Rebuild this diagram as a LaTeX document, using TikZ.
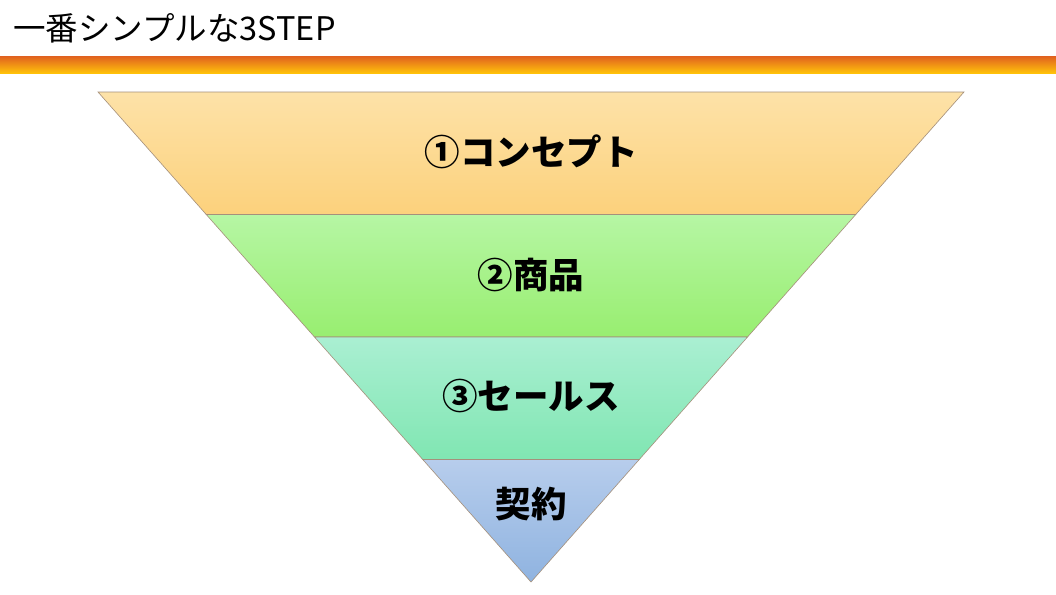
\documentclass[tikz,border=0pt]{standalone}
\usepackage{fontspec}
\setmainfont{Noto Sans CJK JP}
\newfontfamily\jpfont{Noto Sans CJK JP}
\usetikzlibrary{calc}
\usetikzlibrary{positioning}
\tikzset{
	band/.style={draw=black!45!brown!60, line width=0.6pt},
	bandlabel/.style={font=\jpfont\bfseries\fontsize{35.5}{35.5}\selectfont, text=black, inner sep=0pt}
}

\begin{document}
\begin{tikzpicture}[x=1pt, y=-1pt]
	\def\Top{92}
	\def\Apex{582}
	%%%%%%%%%%%%%%%%%%%%%%%%%%%%%%%%%%%%%%%%%%%%%%%%%%%%%%%%%%
	\definecolor{ConceptTop}{HTML}{FDE2A8}
	\definecolor{ConceptBottom}{HTML}{FCD17C}
	\definecolor{ProductTop}{HTML}{B6F6A4}
	\definecolor{ProductBottom}{HTML}{98EE70}
	\definecolor{SalesTop}{HTML}{AAEFD2}
	\definecolor{SalesBottom}{HTML}{80E6B2}
	\definecolor{ContractTop}{HTML}{B7CDEC}
	\definecolor{ContractBottom}{HTML}{8FB3E0}
	\definecolor{BarTop}{HTML}{E2661E}
	\definecolor{BarBottom}{HTML}{FFC20A}
	%%%%%%%%%%%%%%%%%%%%%%%%%%%%%%%%%%%%%%%%%%%%%%%%%%%%%%%%%%
	\useasboundingbox[fill=white] (0,0) rectangle (1056,594);
	
	% title
	\node[anchor=west, inner sep=0pt, font=\jpfont\fontsize{32.5}{32.5}\selectfont] (title) at (13,28) {一番シンプルな3STEP};
	
	% orange bar
	\shade[top color=BarTop, bottom color=BarBottom] (0,57) rectangle (1056,73);
	
	% funnel corners
	\coordinate (a0) at (98,\Top);
	\coordinate (b0) at (964,\Top);
	\coordinate (apex) at (531,\Apex);
	\foreach \i in {1,2,3} {
		\coordinate (a\i) at ($(a0)!\i/4!(apex)$);
		\coordinate (b\i) at ($(b0)!\i/4!(apex)$);
	}
	
	% concept band
	\path[band, top color=ConceptTop, bottom color=ConceptBottom] (a0) -- (b0) -- (b1) -- (a1) -- cycle;
	
	% product band
	\path[band, top color=ProductTop, bottom color=ProductBottom] (a1) -- (b1) -- (b2) -- (a2) -- cycle;
	
	% sales band
	\path[band, top color=SalesTop, bottom color=SalesBottom] (a2) -- (b2) -- (b3) -- (a3) -- cycle;
	
	% contract tip
	\path[band, top color=ContractTop, bottom color=ContractBottom] (a3) -- (b3) -- (apex) -- cycle;
	
	% labels
	\node[bandlabel] (concept) at (531,152) {①コンセプト};
	\node[bandlabel] (product) at (531,275) {②商品};
	\node[bandlabel] (sales) at (531,396) {③セールス};
	\node[bandlabel] (contract) at (531,504) {契約};
	
\end{tikzpicture}
\end{document}
